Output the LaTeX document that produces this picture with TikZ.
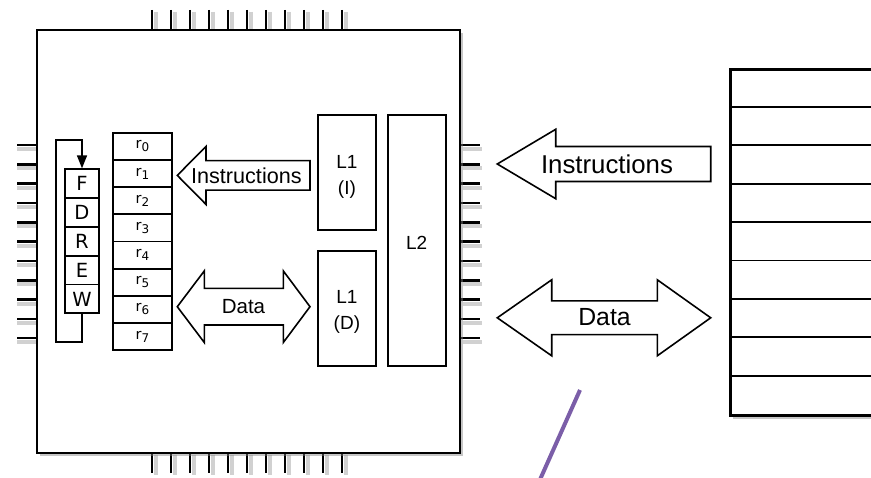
\documentclass[tikz,border=0pt]{standalone}
\usepackage{fontspec}
\setmainfont{Liberation Sans}
\newfontfamily\regfont{DejaVu Sans}
\usetikzlibrary{arrows.meta,shadows}
\definecolor{linepurple}{RGB}{123,94,168}
\tikzset{
  cell/.style={draw,line width=1.8pt,inner sep=0pt,fill=white},
  regbox/.style={cell,minimum width=59pt,minimum height=27.2pt,font=\regfont\fontsize{14.5}{14.5}\selectfont},
  stagebox/.style={cell,minimum width=34pt,minimum height=28.8pt,font=\regfont\fontsize{19.5}{19.5}\selectfont},
  cachebox/.style={cell,minimum width=58pt},
  cachetext/.style={align=center,font=\fontsize{19}{26}\selectfont},
  blockarrow/.style={draw,line width=1.6pt,fill=white,line join=miter},
  chipbox/.style={draw,line width=2.8pt,fill=white,minimum size=423pt,
    drop shadow={opacity=0.45,shadow xshift=3pt,shadow yshift=-3pt}},
  membox/.style={draw,line width=2.6pt,fill=white,anchor=north west,minimum width=220pt,minimum height=346pt,
    drop shadow={opacity=0.45,shadow xshift=2pt,shadow yshift=-3pt}},
  pin/.style={line width=2.4pt},
  pinshadow/.style={line width=4pt,black,opacity=0.18},
}
\begin{document}
\begin{tikzpicture}[x=1pt,y=-1pt]
\useasboundingbox (0,0) rectangle (871,478);

\foreach \i [evaluate=\i as \x using 151.7+19.03*\i, evaluate=\i as \y using 145+19.33*\i] in {0,...,10} {
  \draw[pinshadow] (\x+4,12) -- (\x+4,30);
  \draw[pinshadow] (\x+4,455) -- (\x+4,475);
  \draw[pinshadow] (17,\y+4) -- (37,\y+4);
  \draw[pinshadow] (463,\y+4) -- (482,\y+4);
  \draw[pin] (\x,10) -- (\x,30);
  \draw[pin] (\x,453) -- (\x,473);
  \draw[pin] (17,\y) -- (37,\y);
  \draw[pin] (461,\y) -- (480,\y);
}

\node[chipbox] (chip) at (248.5,241.5) {};

\foreach \i in {0,...,7}
  \node[regbox] (r\i) at (142.5,146.3+27.2*\i) {r\raisebox{-3pt}{\fontsize{12}{12}\selectfont\i}};

\foreach \s [count=\i from 0] in {F,D,R,E,W}
  \node[stagebox] (\s) at (82,183.7+28.8*\i) {\s};
\draw[line width=1.4pt,-{Triangle[length=13pt,width=10pt]}] (W.south) -- ++(0,28) -- ++(-26,0) -- ++(0,-202) -- ++(26,0) -- (F.north);

\node[cachebox,minimum height=115pt,label={[cachetext,yshift=-4pt]center:{L1\\(I)}}] (L1I) at (346.9,172.5) {};
\node[cachebox,minimum height=115pt,label={[cachetext,yshift=-4pt]center:{L1\\(D)}}] (L1D) at (346.9,308.2) {};
\node[cachebox,minimum height=250.7pt,label={[cachetext,yshift=-2.5pt]center:L2}] (L2) at (416.7,240.35) {};

\draw[blockarrow] (177.3,175.4) -- (206,146.4) -- (206,160.7) -- (310,160.7) -- (310,190.1) -- (206,190.1) -- (206,204.4) -- cycle;
\node[font=\fontsize{21.6}{21.6}\selectfont] (instIn) at (246.4,175.4) {Instructions};

\draw[blockarrow] (177.3,306.7) -- (204.3,270.9) -- (204.3,288.4) -- (283.3,288.4) -- (283.3,270.9) -- (310,306.7)
  -- (283.3,342.5) -- (283.3,325) -- (204.3,325) -- (204.3,342.5) -- cycle;
\node[font=\fontsize{20.5}{20.5}\selectfont] (dataIn) at (243.5,306.7) {Data};

\draw[blockarrow] (497.3,164) -- (555.7,129.3) -- (555.7,146.5) -- (710.7,146.5) -- (710.7,181.5) -- (555.7,181.5) -- (555.7,198.7) -- cycle;
\node[font=\fontsize{25.8}{25.8}\selectfont] (instOut) at (607,164) {Instructions};

\draw[blockarrow] (497.3,317.8) -- (551.7,279.8) -- (551.7,300.9) -- (657.3,300.9) -- (657.3,279.8) -- (710.7,317.8)
  -- (657.3,355.8) -- (657.3,334.7) -- (551.7,334.7) -- (551.7,355.8) -- cycle;
\node[font=\fontsize{24.8}{24.8}\selectfont] (dataOut) at (604.5,317.5) {Data};

\node[membox] (mem) at (729.3,68.3) {};
\foreach \k in {1,...,8}
  \draw[line width=1.8pt] (729.3,68.3+38.44*\k) -- (mem.east |- 0,68.3+38.44*\k);

\draw[linepurple,line width=4pt] (580,390) -- (536.7,487);
\end{tikzpicture}
\end{document}
